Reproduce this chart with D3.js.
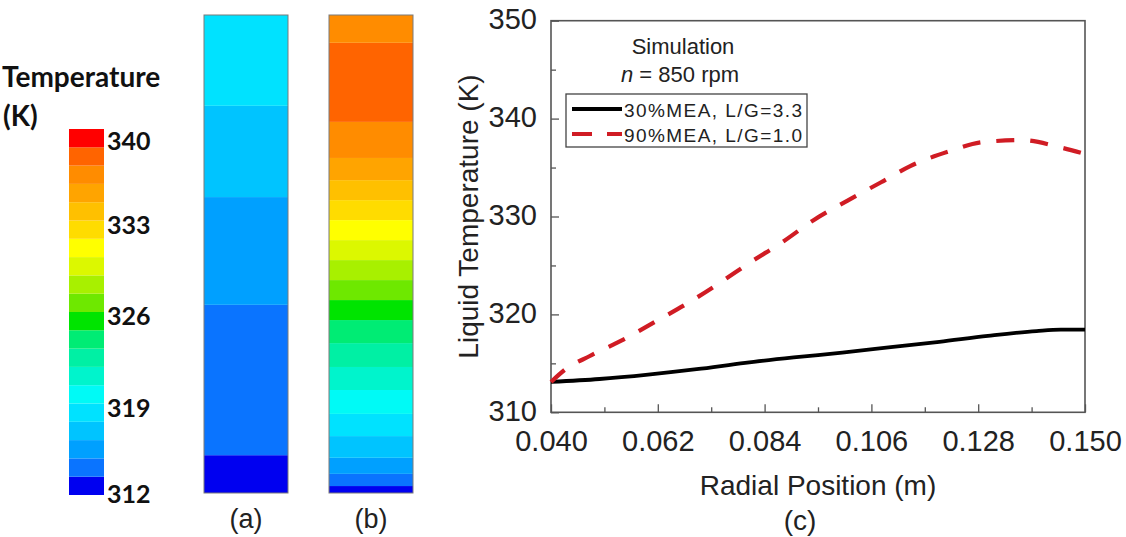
<!DOCTYPE html>
<html>
<head>
<meta charset="utf-8">
<script src="https://cdn.jsdelivr.net/npm/d3@7"></script>
<style>
  html, body { margin: 0; padding: 0; background: #fff; }
  svg { display: block; }
</style>
</head>
<body>
<svg id="fig" width="1126" height="537"></svg>
<script>
// ---- data ----
// liquid temperature along the radial position, n = 850 rpm
const radial30 = [0.040, 0.050, 0.060, 0.070, 0.080, 0.090, 0.100, 0.110, 0.120, 0.130, 0.140, 0.145, 0.150];
const temp30   = [313.1, 313.4, 313.85, 314.4, 315.05, 315.6, 316.1, 316.65, 317.2, 317.8, 318.3, 318.45, 318.45];
const radial90 = [0.040, 0.043, 0.048, 0.055, 0.062, 0.068, 0.075, 0.081, 0.088, 0.094, 0.101, 0.108, 0.114, 0.122, 0.129, 0.137, 0.145, 0.150];
const temp90   = [313.1, 314.4, 315.75, 317.45, 319.4, 321.1, 323.3, 325.3, 327.5, 329.6, 331.6, 333.5, 335.15, 336.65, 337.6, 337.8, 337.05, 336.4];
const seriesNames = ["30%MEA, L/G=3.3", "90%MEA, L/G=1.0"];

const radialTicks = [0.040, 0.062, 0.084, 0.106, 0.128, 0.150];
const tempTicks = [310, 320, 330, 340, 350];

// contour legend: 20 levels from 312 K to 340 K
const levelColors = ["#0000f0", "#0a74ff", "#00a0ff", "#00c4ff", "#00e2ff",
                     "#00faf6", "#00f4cc", "#00f0a4", "#00ec74", "#00e400",
                     "#6ee800", "#a8f000", "#dcf800", "#ffff00", "#ffdc00",
                     "#ffc000", "#ffa400", "#ff8c00", "#ff6400", "#ff0000"];
const colorbarTicks = [340, 333, 326, 319, 312];

// contour bands along the bed (radial edges in m, level index per band)
const bandEdgesA  = [0.040, 0.0487, 0.0833, 0.1081, 0.1291, 0.150];
const bandLevelsA = [0, 1, 2, 3, 4];
const bandEdgesB  = [0.0400, 0.0416, 0.0444, 0.0481, 0.0531, 0.0582, 0.0637, 0.0690, 0.0745, 0.0798,
                     0.0844, 0.0890, 0.0936, 0.0982, 0.1028, 0.1074, 0.1120, 0.1171, 0.1254, 0.1436, 0.1500];
const bandLevelsB = [0, 1, 2, 3, 4, 5, 6, 7, 8, 9, 10, 11, 12, 13, 14, 15, 16, 17, 18, 17];

// ---- drawing ----
const svg = d3.select("#fig");
const sansC = "'Liberation Sans', Arial, sans-serif";
const boldL = "Lato, 'Open Sans', sans-serif";

// colour bar
const tMin = 312, tMax = 340, nLev = levelColors.length;
const cbTop = 129, cbBottom = 495, cbX = 69, cbW = 35;
const cScale = d3.scaleLinear().domain([tMin, tMax]).range([cbBottom, cbTop]);
const levelStep = (tMax - tMin) / nLev;
const cb = svg.append("g");
cb.selectAll("rect").data(levelColors).join("rect")
  .attr("x", cbX).attr("width", cbW)
  .attr("y", (c, i) => cScale(tMin + (i + 1) * levelStep))
  .attr("height", (c, i) => cScale(tMin + i * levelStep) - cScale(tMin + (i + 1) * levelStep))
  .attr("fill", c => c);
cb.selectAll("text").data(colorbarTicks).join("text")
  .attr("x", 107)
  .attr("y", t => Math.min(Math.max(cScale(t) + 3, cbTop + 11), cbBottom - 2))
  .attr("dominant-baseline", "central")
  .style("font-family", boldL).style("font-weight", "bold").style("font-size", "25px")
  .attr("fill", "#111")
  .text(t => t);
svg.append("text").attr("x", 2).attr("y", 76).attr("dominant-baseline", "central")
  .style("font-family", boldL).style("font-weight", "bold").style("font-size", "28px")
  .attr("fill", "#111").text("Temperature");
svg.append("text").attr("x", 3).attr("y", 115).attr("dominant-baseline", "central")
  .style("font-family", boldL).style("font-weight", "bold").style("font-size", "28px")
  .attr("fill", "#111").text("(K)");

// contour bars (a) and (b): bottom = inner radius, top = outer radius
const barScale = d3.scaleLinear().domain([0.040, 0.150]).range([493, 15]);
function drawBar(x, w, edges, levels, label) {
  const g = svg.append("g");
  g.selectAll("rect.band").data(levels).join("rect").attr("class", "band")
    .attr("x", x).attr("width", w)
    .attr("y", (k, i) => barScale(edges[i + 1]))
    .attr("height", (k, i) => barScale(edges[i]) - barScale(edges[i + 1]))
    .attr("fill", k => levelColors[k]);
  g.append("rect").attr("x", x).attr("y", barScale(0.150))
    .attr("width", w).attr("height", barScale(0.040) - barScale(0.150))
    .attr("fill", "none").attr("stroke", "#7a7a7a").attr("stroke-width", 1);
  g.append("text").attr("x", x + w / 2).attr("y", 519).attr("text-anchor", "middle")
    .attr("dominant-baseline", "central")
    .style("font-family", sansC).style("font-size", "27px").attr("fill", "#222").text(label);
}
drawBar(204, 84, bandEdgesA, bandLevelsA, "(a)");
drawBar(329, 84, bandEdgesB, bandLevelsB, "(b)");

// line chart (c)
const px0 = 551, px1 = 1085, py0 = 412.3, py1 = 20.7;
const x = d3.scaleLinear().domain([0.040, 0.150]).range([px0, px1]);
const y = d3.scaleLinear().domain([310, 350]).range([py0, py1]);
const axisColor = "#555";

const xMinor = d3.range(radialTicks.length - 1).map(i => (radialTicks[i] + radialTicks[i + 1]) / 2);
const yMinor = d3.range(tempTicks.length - 1).map(i => (tempTicks[i] + tempTicks[i + 1]) / 2);

// bottom axis (ticks pointing inward)
const gx = svg.append("g").attr("transform", `translate(0,${py0})`)
  .call(d3.axisBottom(x).tickValues(radialTicks).tickFormat(d3.format(".3f")).tickSizeInner(-8).tickSizeOuter(0).tickPadding(18));
gx.select(".domain").remove();
gx.selectAll(".tick line").attr("stroke", axisColor).attr("stroke-width", 1.3);
gx.selectAll("text").style("font-family", sansC).style("font-size", "29px").attr("fill", "#222");
svg.append("g").attr("transform", `translate(0,${py0})`)
  .call(d3.axisBottom(x).tickValues(xMinor).tickFormat("").tickSizeInner(-5).tickSizeOuter(0))
  .call(g => g.select(".domain").remove())
  .selectAll("line").attr("stroke", axisColor).attr("stroke-width", 1.3);

// left axis
const gy = svg.append("g").attr("transform", `translate(${px0},0)`)
  .call(d3.axisLeft(y).tickValues(tempTicks).tickSizeInner(-8).tickSizeOuter(0).tickPadding(14));
gy.select(".domain").remove();
gy.selectAll(".tick line").attr("stroke", axisColor).attr("stroke-width", 1.3);
gy.selectAll("text").style("font-family", sansC).style("font-size", "29px").attr("fill", "#222")
  .attr("dy", "0.28em");
svg.append("g").attr("transform", `translate(${px0},0)`)
  .call(d3.axisLeft(y).tickValues(yMinor).tickFormat("").tickSizeInner(-5).tickSizeOuter(0))
  .call(g => g.select(".domain").remove())
  .selectAll("line").attr("stroke", axisColor).attr("stroke-width", 1.3);

// frame
svg.append("rect").attr("x", px0).attr("y", py1).attr("width", px1 - px0).attr("height", py0 - py1)
  .attr("fill", "none").attr("stroke", axisColor).attr("stroke-width", 1.6);

// axis titles
svg.append("text").attr("transform", `translate(468,${(py0 + py1) / 2}) rotate(-90)`)
  .attr("text-anchor", "middle").attr("dominant-baseline", "central")
  .style("font-family", sansC).style("font-size", "28px").attr("fill", "#222")
  .text("Liquid Temperature (K)");
svg.append("text").attr("x", (px0 + px1) / 2).attr("y", 485)
  .attr("text-anchor", "middle").attr("dominant-baseline", "central")
  .style("font-family", sansC).style("font-size", "28px").attr("fill", "#222")
  .text("Radial Position (m)");
svg.append("text").attr("x", 800).attr("y", 520)
  .attr("text-anchor", "middle").attr("dominant-baseline", "central")
  .style("font-family", sansC).style("font-size", "28px").attr("fill", "#222")
  .text("(c)");

// curves
const line = d3.line().x(d => x(d[0])).y(d => y(d[1])).curve(d3.curveMonotoneX);
const data30 = radial30.map((r, i) => [r, temp30[i]]);
const data90 = radial90.map((r, i) => [r, temp90[i]]);
svg.append("path").datum(data30).attr("d", line)
  .attr("fill", "none").attr("stroke", "#000").attr("stroke-width", 3.8);
svg.append("path").datum(data90).attr("d", line)
  .attr("fill", "none").attr("stroke", "#d01c24").attr("stroke-width", 4.2)
  .attr("stroke-dasharray", "18,16");

// annotation
svg.append("text").attr("x", 683).attr("y", 46).attr("text-anchor", "middle")
  .attr("dominant-baseline", "central")
  .style("font-family", sansC).style("font-size", "22px").attr("fill", "#222").text("Simulation");
const ann = svg.append("text").attr("x", 680).attr("y", 74).attr("text-anchor", "middle")
  .attr("dominant-baseline", "central")
  .style("font-family", sansC).style("font-size", "22px").attr("fill", "#222");
ann.append("tspan").style("font-style", "italic").text("n");
ann.append("tspan").text(" = 850 rpm");

// legend
const lg = svg.append("g");
lg.append("rect").attr("x", 566).attr("y", 94).attr("width", 241).attr("height", 53)
  .attr("fill", "#fff").attr("stroke", "#444").attr("stroke-width", 1.3);
const legendRows = [
  { name: seriesNames[0], color: "#000", dash: null, width: 3.8, y: 109 },
  { name: seriesNames[1], color: "#d01c24", dash: "20,15", width: 4.2, y: 134 }
];
legendRows.forEach(r => {
  lg.append("line").attr("x1", 572).attr("x2", 622).attr("y1", r.y).attr("y2", r.y)
    .attr("stroke", r.color).attr("stroke-width", r.width).attr("stroke-dasharray", r.dash);
  lg.append("text").attr("x", 624).attr("y", r.y + 1).attr("dominant-baseline", "central")
    .attr("textLength", 178).attr("lengthAdjust", "spacing")
    .style("font-family", sansC).style("font-size", "19px").attr("fill", "#222").text(r.name);
});
</script>
</body>
</html>
